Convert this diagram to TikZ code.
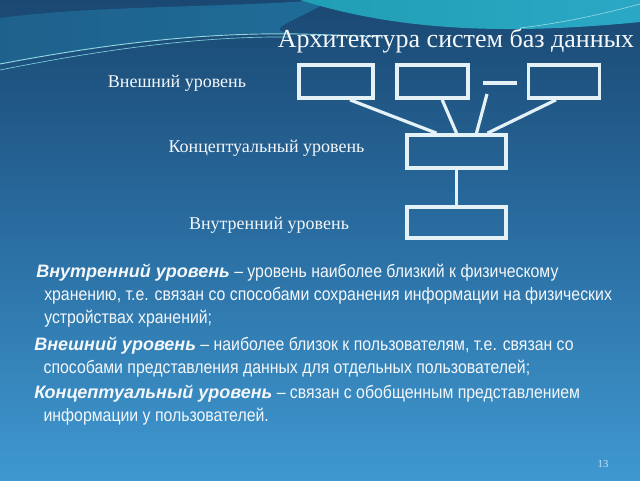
\documentclass[tikz,border=0pt]{standalone}
\usepackage{fontspec}
\setmainfont{Liberation Serif}
\newfontfamily\bodyfont[FakeStretch=0.88]{Liberation Sans}
\newfontfamily\termfont{Liberation Sans}
\newcommand{\term}[1]{{\termfont\bfseries\itshape #1}}
\usetikzlibrary{positioning}

\definecolor{bgtop}{HTML}{1A4872}
\definecolor{bgmid}{HTML}{2A6EA2}
\definecolor{bgbot}{HTML}{3F98D0}
\definecolor{wavecol}{HTML}{22AEC0}
\definecolor{bandcol}{HTML}{1F6C98}
\definecolor{linecol}{HTML}{E4F1F7}
\definecolor{txtcol}{HTML}{F4F7FA}

\begin{document}
\begin{tikzpicture}[x=0.75pt,y=-0.75pt,
	levelbox/.style={draw=linecol,line width=2.8pt,inner sep=0pt},
	link/.style={draw=linecol,line width=2.4pt},
	lvltext/.style={text=txtcol,font=\fontsize{13.5}{16}\selectfont},
	bodytext/.style={text=txtcol,align=left,inner sep=0pt,anchor=north west,
		font=\bodyfont\fontsize{13.5}{17}\selectfont}]
	
	% 定义像素单位
	\def\px{0.75pt} % 一个像素的长度
	
	% 背景
	\useasboundingbox (0,0) rectangle (640,480); % 固定画布大小
	\shade[top color=bgtop,bottom color=bgbot,middle color=bgmid] (0,0) rectangle (640,480); % 蓝色渐变背景
	
	% 顶部波浪
	\shade[left color=bandcol!70!bgtop,right color=bandcol] (0,18) .. controls (100,5) and (220,8) .. (320,0) -- (330,0) .. controls (300,20) and (260,30) .. (290,33) .. controls (200,32) and (100,45) .. (0,64) -- cycle; % 左侧浅色带
	\shade[left color=wavecol!85!bgtop,right color=wavecol!70!bgbot] (300,0) .. controls (380,25) and (480,38) .. (640,22) -- (640,0) -- cycle; % 青色波浪
	\draw[wavecol!50!white,line width=0.7pt] (0,64) .. controls (100,45) and (200,32) .. (300,34) .. controls (340,35) and (360,36) .. (380,37); % 细高光线
	\draw[wavecol!60!white,line width=0.5pt] (0,70) .. controls (100,50) and (200,36) .. (290,37); % 第二条高光线
	\draw[wavecol!50!white,line width=0.5pt] (520,28) .. controls (570,22) and (610,12) .. (640,4); % 右侧高光线
	
	% 标题
	\node[text=txtcol,font=\fontsize{19.5}{24}\selectfont] (title) at (456,41) {Архитектура систем баз данных};
	
	% 外部层的三个方框
	\node[levelbox,minimum width=74*\px,minimum height=33*\px] (ext1) at (336,81.5) {};
	\node[levelbox,minimum width=71*\px,minimum height=33*\px,right=15pt of ext1] (ext2) {};
	\node[levelbox,minimum width=71*\px,minimum height=33*\px,right=42.75pt of ext2] (ext3) {};
	
	% 概念层与内部层
	\node[levelbox,minimum width=99*\px,minimum height=33*\px] (concept) at (456.5,151.5) {};
	\node[levelbox,minimum width=99*\px,minimum height=31*\px,below=26.25pt of concept] (internal) {};
	
	% 方框之间的连线
	\coordinate (dashL) at (483,83); % 短横线左端
	\coordinate (dashR) at (517,83); % 短横线右端
	\coordinate (stub) at (487,94); % 第四条连线的起点
	\draw[link] (dashL) -- (dashR);
	\draw[link] ([xshift=14*\px]ext1.south) -- ([xshift=-20*\px]concept.north);
	\draw[link] ([xshift=10*\px]ext2.south) -- (concept.north);
	\draw[link] (stub) -- ([xshift=20*\px]concept.north);
	\draw[link] ([xshift=-8*\px]ext3.south) -- ([xshift=31*\px]concept.north);
	\draw[link] (concept) -- (internal);
	
	% 层的名称
	\node[lvltext] (extlabel) at (177,83) {Внешний уровень};
	\node[lvltext] (conlabel) at (266.5,148) {Концептуальный уровень};
	\node[lvltext] (intlabel) at (269,225) {Внутренний уровень};
	
	% 说明文字
	\node[bodytext] (intdesc) at (36,264) {\term{Внутренний уровень} – уровень наиболее близкий к физическому\\
		\hspace*{6pt}хранению, т.е. связан со способами сохранения информации на физических\\
		\hspace*{6pt}устройствах хранений;};
	\node[bodytext] (extdesc) at (34,337) {\term{Внешний уровень} – наиболее близок к пользователям, т.е. связан со\\
		\hspace*{7pt}способами представления данных для отдельных пользователей;};
	\node[bodytext] (condesc) at (34,385) {\term{Концептуальный уровень} – связан с обобщенным представлением\\
		\hspace*{7pt}информации у пользователей.};
	
	% 页码
	\node[text=txtcol!80!bgbot,font=\fontsize{8}{10}\selectfont] (pagenum) at (603,464) {13};
	
\end{tikzpicture}
\end{document}
